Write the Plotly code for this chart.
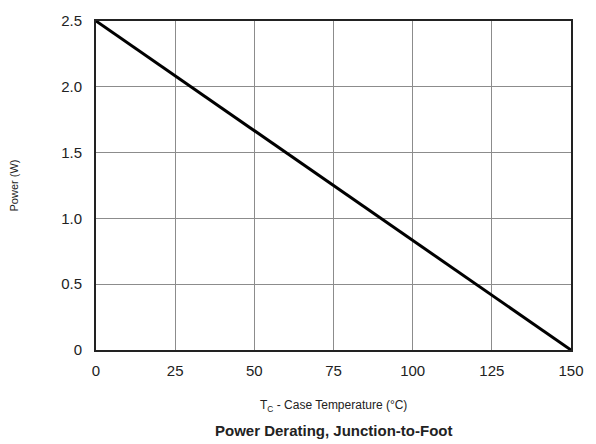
import plotly.graph_objects as go

temperature = [0, 150]
power = [2.5, 0]
x_ticks = [0, 25, 50, 75, 100, 125, 150]
y_ticks = [0, 0.5, 1.0, 1.5, 2.0, 2.5]
y_tick_labels = ["0", "0.5", "1.0", "1.5", "2.0", "2.5"]

fig = go.Figure()
fig.add_trace(go.Scatter(x=temperature, y=power, mode="lines",
                         line=dict(color="black", width=3), showlegend=False))

font = "Liberation Sans, Arial, sans-serif"
fig.update_layout(
    width=596, height=444,
    margin=dict(l=96, r=16, t=15, b=94),
    paper_bgcolor="white", plot_bgcolor="white",
    font=dict(family=font, color="#222", size=15),
    xaxis=dict(range=[0, 150], tickvals=x_ticks, showgrid=True, gridcolor="#8c8c8c",
               gridwidth=1, showline=True, linecolor="#222", linewidth=2, mirror=True,
               zeroline=False, ticks="outside", ticklen=6, tickcolor="rgba(0,0,0,0)",
               tickfont=dict(size=15)),
    yaxis=dict(range=[0, 2.5], tickvals=y_ticks, ticktext=y_tick_labels, showgrid=True,
               gridcolor="#8c8c8c", gridwidth=1, showline=True, linecolor="#222",
               linewidth=2, mirror=True, zeroline=False, ticks="outside", ticklen=9,
               tickcolor="rgba(0,0,0,0)", tickfont=dict(size=15),
               title=dict(text="Power (W)", font=dict(size=11), standoff=40)),
    annotations=[
        dict(text="T<sub>C</sub> - Case Temperature (°C)", x=0.5, y=-0.17, xref="paper",
             yref="paper", showarrow=False, font=dict(size=12), xanchor="center", yanchor="middle"),
        dict(text="<b>Power Derating, Junction-to-Foot</b>", x=0.5, y=-0.245, xref="paper",
             yref="paper", showarrow=False, font=dict(size=15), xanchor="center", yanchor="middle"),
    ],
)
fig.write_html("out.html")
